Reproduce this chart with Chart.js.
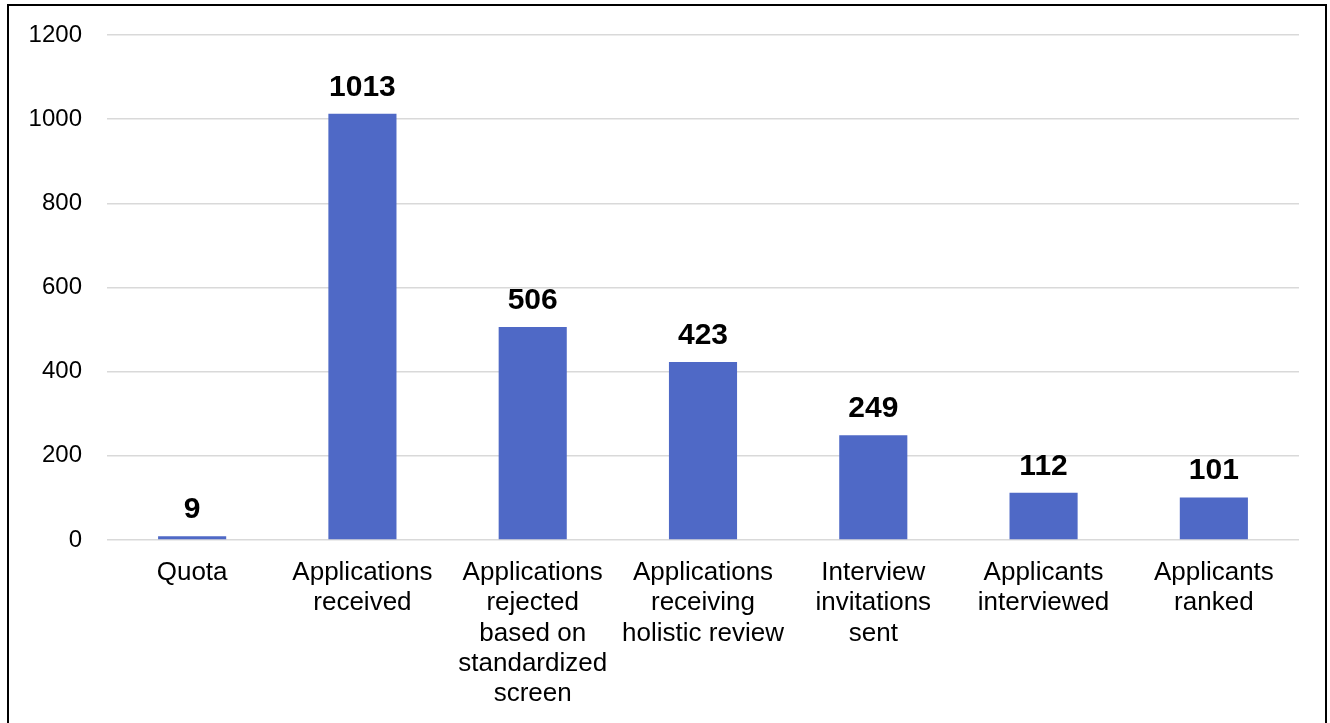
<!DOCTYPE html>
<html>
<head>
<meta charset="utf-8">
<script src="https://cdn.jsdelivr.net/npm/chart.js@4.4.1/dist/chart.umd.min.js"></script>
<style>
  html, body { margin: 0; padding: 0; background: #fff; overflow: hidden; }
  #wrap { position: relative; width: 1330px; height: 723px; }
  #frame { position: absolute; left: 7px; top: 4px; width: 1320px; height: 800px; border: 2px solid #000; box-sizing: border-box; pointer-events: none; }
</style>
</head>
<body>
<div id="wrap">
  <canvas id="myChart" width="1330" height="723"></canvas>
  <div id="frame"></div>
</div>
<script>
// categories (one array per label, one string per line)
const categories = [
  ['Quota'],
  ['Applications', 'received'],
  ['Applications', 'rejected', 'based on', 'standardized', 'screen'],
  ['Applications', 'receiving', 'holistic review'],
  ['Interview', 'invitations', 'sent'],
  ['Applicants', 'interviewed'],
  ['Applicants', 'ranked']
];
const counts = [9, 1013, 506, 423, 249, 112, 101];
const yMin = 0;
const yMax = 1200;
const yStep = 200;

const font = 'Arial, "Liberation Sans", sans-serif';

// valeurs au-dessus des barres
const barLabels = {
  id: 'barLabels',
  afterDatasetsDraw(chart) {
    const ctx = chart.ctx;
    const meta = chart.getDatasetMeta(0);
    ctx.save();
    ctx.fillStyle = '#000';
    ctx.font = 'bold 30px ' + font;
    ctx.textAlign = 'center';
    ctx.textBaseline = 'alphabetic';
    meta.data.forEach((bar, i) => {
      ctx.fillText(String(counts[i]), bar.x, bar.y - 18);
    });
    ctx.restore();
  }
};

new Chart(document.getElementById('myChart').getContext('2d'), {
  type: 'bar',
  data: {
    labels: categories,
    datasets: [{
      data: counts,
      backgroundColor: '#4f69c6',
      borderWidth: 0,
      barPercentage: 0.4,
      categoryPercentage: 1.0
    }]
  },
  options: {
    responsive: false,
    animation: false,
    devicePixelRatio: 1,
    layout: { padding: { top: 35, right: 31, left: 0, bottom: 0 } },
    plugins: {
      legend: { display: false },
      tooltip: { enabled: false }
    },
    scales: {
      x: {
        grid: { display: false },
        border: { display: false },
        ticks: {
          color: '#000',
          font: { family: font, size: 26, lineHeight: 1.16 },
          padding: 10,
          maxRotation: 0,
          autoSkip: false
        },
        afterFit(scale) { scale.height = 183; }
      },
      y: {
        min: yMin,
        max: yMax,
        grid: { color: '#d9d9d9', lineWidth: 1.5, drawTicks: false },
        border: { display: false },
        ticks: {
          stepSize: yStep,
          color: '#000',
          font: { family: font, size: 24 },
          padding: 25,
          callback: (v) => String(v)
        },
        afterFit(scale) {
          scale.width = 107;
          scale.paddingTop = 0;
          scale.paddingBottom = 0;
        }
      }
    }
  },
  plugins: [barLabels]
});
</script>
</body>
</html>
